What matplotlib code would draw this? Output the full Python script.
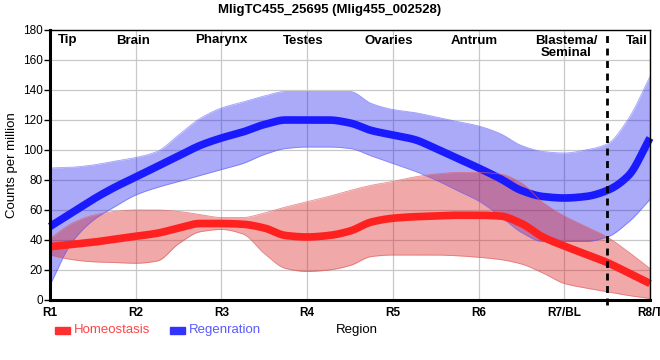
import numpy as np
import matplotlib
matplotlib.use("Agg")
import matplotlib.pyplot as plt
from matplotlib.patches import Rectangle

plt.rcParams['font.family'] = ['Liberation Sans', 'DejaVu Sans']

# data (region index 0..7, step 0.25)
pos = np.arange(0, 7.01, 0.25)

regen_mid = [49, 58, 67, 75, 82, 89, 96, 103, 108, 112, 117, 120, 120, 120, 118, 113,
             110, 107, 101, 94.5, 88, 81, 73, 69, 68, 69, 73, 83, 108]
regen_hi = [88, 88.5, 90, 92.5, 95, 99, 110, 121, 128, 132, 136, 139, 139, 139, 139, 131,
            127, 125, 122, 119, 116, 111, 103, 99, 98, 100, 104, 121, 149]
regen_lo = [10, 38, 53, 62, 70, 75, 79, 83, 87, 91, 97, 101, 102, 102, 101, 96,
            91, 86, 80, 73, 66, 56, 45, 39, 39, 39, 42, 52, 67]

homeo_mid = [35.5, 37, 38.5, 40.5, 42.5, 44.5, 48, 51, 51, 50.5, 48, 43, 42, 43, 46, 52,
             54.5, 55.5, 56, 56.5, 56.5, 56, 51, 42, 36, 30.5, 25, 18, 11]
homeo_hi = [41, 51, 56.5, 59, 60, 60, 59, 57, 55, 55, 58, 62, 65.5, 69, 73, 76.5,
            79, 82, 84, 85, 85, 84, 78, 65, 56, 49, 42, 32, 21]
homeo_lo = [30, 27, 25.5, 25, 24.5, 26, 37.5, 45.5, 47, 44, 31, 21, 19, 20, 23, 29,
            30, 30, 30, 29.5, 28.5, 27, 24, 18, 11, 8, 5.5, 3, 1]

tick_labels = ["R1", "R2", "R3", "R4", "R5", "R6", "R7/BL", "R8/T"]
region_names = ["Tip", "Brain", "Pharynx", "Testes", "Ovaries", "Antrum", "Blastema/\nSeminal", "Tail"]
region_pos = [0.2, 0.97, 2.0, 2.95, 3.95, 4.95, 6.02, 6.85]
tail_cut = 6.5


def smooth(x, y, n=600):
    # monotone cubic through the read points, just for drawing
    x = np.asarray(x, float); y = np.asarray(y, float)
    h = np.diff(x); d = np.diff(y) / h
    m = np.zeros_like(y)
    m[0], m[-1] = d[0], d[-1]
    for k in range(1, len(x) - 1):
        if d[k - 1] * d[k] > 0:
            w1 = 2 * h[k] + h[k - 1]
            w2 = h[k] + 2 * h[k - 1]
            m[k] = (w1 + w2) / (w1 / d[k - 1] + w2 / d[k])
    xs = np.linspace(x[0], x[-1], n)
    i = np.clip(np.searchsorted(x, xs) - 1, 0, len(x) - 2)
    t = (xs - x[i]) / h[i]
    h00 = 2 * t**3 - 3 * t**2 + 1
    h10 = t**3 - 2 * t**2 + t
    h01 = -2 * t**3 + 3 * t**2
    h11 = t**3 - t**2
    ys = h00 * y[i] + h10 * h[i] * m[i] + h01 * y[i + 1] + h11 * h[i] * m[i + 1]
    return xs, ys


fig = plt.figure(figsize=(6.6, 3.6), dpi=100)
ax = fig.add_axes([50 / 660, 60 / 360, 600 / 660, 270 / 360])

blue = "#1a1aff"
red = "#ff2020"

# regeneration band + line
xs, lo = smooth(pos, regen_lo)
_, hi = smooth(pos, regen_hi)
ax.fill_between(xs, lo, hi, color="#1414f0", alpha=0.36, linewidth=0)
ax.plot(xs, lo, color="#6060ff", lw=0.6, alpha=0.6)
ax.plot(xs, hi, color="#6060ff", lw=0.6, alpha=0.6)
_, mid = smooth(pos, regen_mid)
ax.plot(xs, mid, color=blue, lw=5.5, solid_capstyle="butt", clip_on=False)

# homeostasis band + line (drawn on top)
xs, lo = smooth(pos, homeo_lo)
_, hi = smooth(pos, homeo_hi)
ax.fill_between(xs, lo, hi, color="#dc1c1c", alpha=0.38, linewidth=0)
ax.plot(xs, lo, color="#e06060", lw=0.6, alpha=0.7)
ax.plot(xs, hi, color="#e06060", lw=0.6, alpha=0.7)
_, mid = smooth(pos, homeo_mid)
ax.plot(xs, mid, color=red, lw=5.5, solid_capstyle="butt", clip_on=False)

ax.axvline(tail_cut, ymin=-0.02, ymax=1, color="black", lw=2, ls=(0, (2.5, 2)), clip_on=False)

ax.set_xlim(0, 7)
ax.set_ylim(0, 180)
ax.set_xticks(range(8))
ax.set_xticklabels(tick_labels, fontweight="bold", fontsize=8.5)
ax.set_yticks(range(0, 181, 20))
ax.tick_params(axis="y", labelsize=8.5, length=4, width=1, pad=1)
ax.tick_params(axis="x", length=0, pad=5)
ax.grid(True, color="#c8c8c8", lw=0.9)
ax.set_axisbelow(True)
for s in ["left", "bottom"]:
    ax.spines[s].set_linewidth(2.2)
for s in ["top", "right"]:
    ax.spines[s].set_linewidth(1)

for name, p in zip(region_names, region_pos):
    ax.text(p, 177, name, ha="center", va="top", fontsize=9.5, fontweight="bold",
            linespacing=1.0)

ax.set_ylabel("Counts per million", fontsize=9.5, labelpad=4)
fig.text(357 / 660, 1 - 330 / 360, "Region", ha="center", va="center", fontsize=9.5)
fig.suptitle("MligTC455_25695 (Mlig455_002528)", x=330 / 660, y=1 - 10 / 360,
             va="center", fontsize=9.5, fontweight="bold")

# legend
fig.patches.append(Rectangle((55 / 660, 1 - 334 / 360), 15 / 660, 7 / 360,
                             transform=fig.transFigure, color="#ff3030"))
fig.text(74 / 660, 1 - 330 / 360, "Homeostasis", color="#ff4545", fontsize=9.5, va="center")
fig.patches.append(Rectangle((170 / 660, 1 - 334 / 360), 15 / 660, 7 / 360,
                             transform=fig.transFigure, color="#3333ff"))
fig.text(189 / 660, 1 - 330 / 360, "Regenration", color="#5a5aff", fontsize=9.5, va="center")

fig.savefig("out.png", dpi=100)
